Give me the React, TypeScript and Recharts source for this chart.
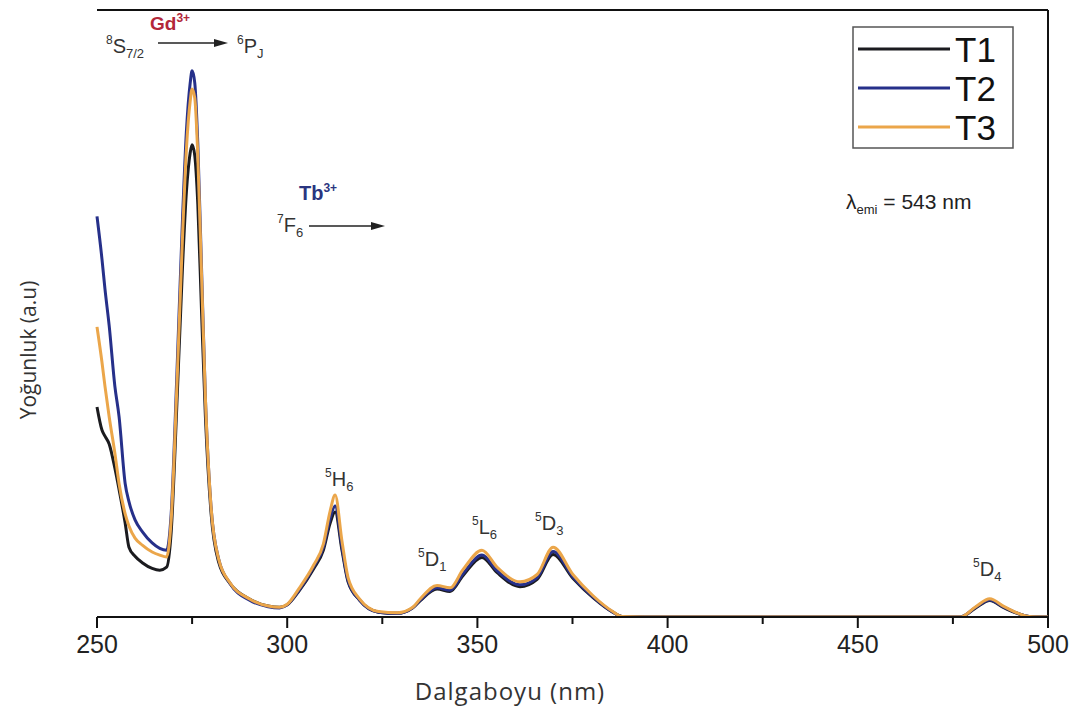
import { LineChart, Line, XAxis, YAxis, ReferenceLine } from "recharts";

// wavelength grid (nm) and intensities (0 = axis, 100 = top frame)
const wavelengths = [
  250, 251.3, 252.1, 253.2, 254.7, 255.8, 257.4, 258.4, 260, 262, 264.5, 266.5, 268.3, 269.5,
  271, 272.5, 273.5, 274.5, 275, 275.7, 276.5, 277.5, 278.5, 280, 282, 285, 290, 295, 298, 300,
  303, 307, 309.5, 311.3, 312.6, 314.4, 316, 319, 324, 329, 333, 335, 339.4, 342.8, 346.2,
  351.2, 355.2, 361.2, 365.7, 369.9, 375.1, 380.4, 385.6, 388, 400, 450, 477, 481, 484.7,
  488.5, 495, 500,
];

const t1 = [
  34.6, 30.8, 29.8, 28.5, 24.5, 21, 15.5, 11.5, 10, 8.9, 8, 7.7, 8.2, 14,
  35, 58, 70, 76.5, 77.8, 76, 68, 50, 33, 17, 9, 5.5, 3, 1.8, 1.6, 2,
  4.2, 8, 11, 15.5, 17.3, 11, 5.8, 2.8, 0.8, 0.6, 1.5, 2.7, 4.6, 4.2, 6.8,
  9.8, 7.3, 5, 6.2, 10.3, 6.4, 3.2, 0.8, 0.1, 0, 0, 0, 1.5, 2.7,
  1.5, 0.1, 0,
];

const t2 = [
  66, 59, 54, 48, 38, 33, 22, 19, 16, 14, 12.2, 11.3, 11, 17,
  40, 66, 80, 88, 90, 88, 78, 57, 36, 18, 9.5, 5.5, 2.8, 1.7, 1.5, 2,
  4.3, 8.3, 11.5, 16.3, 18.3, 11.5, 6, 2.8, 0.8, 0.6, 1.5, 2.8, 4.8, 4.4, 7.1,
  10.2, 7.6, 5.3, 6.5, 10.8, 6.6, 3.3, 0.8, 0.1, 0, 0, 0, 1.6, 2.8,
  1.6, 0.1, 0,
];

const t3 = [
  47.8, 42, 38, 33, 27, 22, 17, 15, 13, 11.8, 10.7, 10.2, 9.9, 16,
  38, 63, 77, 85, 87, 85.5, 76, 56, 36, 18, 9.5, 5.6, 3, 1.8, 1.6, 2.1,
  4.6, 8.6, 12, 17.5, 20.1, 12.5, 6.5, 3, 0.9, 0.7, 1.6, 3, 5.2, 4.8, 7.8,
  11, 8.2, 5.8, 7, 11.5, 7, 3.5, 0.9, 0.1, 0, 0, 0, 1.7, 3,
  1.7, 0.1, 0,
];

const xTicks = [250, 275, 300, 325, 350, 375, 400, 425, 450, 475, 500];
const majorTicks = [250, 300, 350, 400, 450, 500];

const seriesInfo = [
  { key: "T1", color: "#1b1b1f" },
  { key: "T2", color: "#26308a" },
  { key: "T3", color: "#eba64a" },
];

const data = wavelengths.map((nm, i) => ({ nm, T1: t1[i], T2: t2[i], T3: t3[i] }));

const FONT = "'Liberation Sans', Arial, sans-serif";

function Tick(props: any) {
  const { x, y, payload } = props;
  const major = majorTicks.includes(payload.value);
  return (
    <g>
      <line x1={x} x2={x} y1={y} y2={y + (major ? 11 : 7)} stroke="#111" strokeWidth={2} />
      {major && (
        <text x={x} y={y + 36} textAnchor="middle" fontSize={25} fill="#222" fontFamily={FONT}>
          {payload.value}
        </text>
      )}
    </g>
  );
}

function Term({ x, y, sup, main, sub }: { x: number; y: number; sup: string; main: string; sub?: string }) {
  return (
    <text x={x} y={y} fontFamily={FONT} fill="#333" fontSize={20}>
      <tspan fontSize={12} dy={-9}>{sup}</tspan>
      <tspan dy={9}>{main}</tspan>
      {sub && <tspan fontSize={13} dy={5}>{sub}</tspan>}
    </text>
  );
}

function Arrow({ x1, x2, y }: { x1: number; x2: number; y: number }) {
  return (
    <g>
      <line x1={x1} x2={x2 - 10} y1={y} y2={y} stroke="#222" strokeWidth={1.5} />
      <path d={`M${x2},${y} L${x2 - 14},${y - 4} L${x2 - 14},${y + 4} Z`} fill="#222" />
    </g>
  );
}

export default function App() {
  return (
    <div style={{ position: "absolute", left: 0, top: 0, width: 1083, height: 715, background: "#fff" }}>
      <LineChart width={1083} height={715} data={data} margin={{ top: 10, right: 35, left: 97, bottom: 38 }}>
        <XAxis
          dataKey="nm"
          type="number"
          domain={[250, 500]}
          ticks={xTicks}
          interval={0}
          tick={<Tick />}
          tickLine={false}
          tickSize={0}
          tickMargin={0}
          height={60}
          axisLine={{ stroke: "#111", strokeWidth: 2 }}
        />
        <YAxis
          domain={[0, 100]}
          allowDataOverflow
          width={0}
          tick={false}
          tickLine={false}
          axisLine={{ stroke: "#111", strokeWidth: 2 }}
        />
        <ReferenceLine y={100} stroke="#111" strokeWidth={2} />
        <ReferenceLine x={500} stroke="#111" strokeWidth={2} />
        {seriesInfo.map((s) => (
          <Line
            key={s.key}
            type="monotone"
            dataKey={s.key}
            stroke={s.color}
            strokeWidth={3}
            dot={false}
            isAnimationActive={false}
          />
        ))}
      </LineChart>
      <svg
        width={1083}
        height={715}
        style={{ position: "absolute", left: 0, top: 0, pointerEvents: "none" }}
      >
        {/* Gd3+ transition */}
        <text x={150} y={30} fontFamily={FONT} fontWeight="bold" fontSize={19} fill="#b3273a">
          Gd<tspan fontSize={12} dy={-8}>3+</tspan>
        </text>
        <Term x={106} y={53} sup="8" main="S" sub="7/2" />
        <Arrow x1={158} x2={228} y={43} />
        <Term x={237} y={53} sup="6" main="P" sub="J" />

        {/* Tb3+ transition */}
        <text x={299} y={200} fontFamily={FONT} fontWeight="bold" fontSize={20} fill="#2a3580">
          Tb<tspan fontSize={12} dy={-8}>3+</tspan>
        </text>
        <Term x={277} y={232} sup="7" main="F" sub="6" />
        <Arrow x1={309} x2={385} y={226} />

        <Term x={325} y={486} sup="5" main="H" sub="6" />
        <Term x={418} y={566} sup="5" main="D" sub="1" />
        <Term x={472} y={534} sup="5" main="L" sub="6" />
        <Term x={535} y={530} sup="5" main="D" sub="3" />
        <Term x={973} y={576} sup="5" main="D" sub="4" />

        <text x={846} y={209} fontFamily={FONT} fontSize={21} fill="#222">
          λ<tspan fontSize={13} dy={5}>emi</tspan>
          <tspan dy={-5}> = 543 nm</tspan>
        </text>

        {/* legend */}
        <rect x={853} y={27} width={160} height={121} fill="none" stroke="#555" strokeWidth={1.5} />
        {seriesInfo.map((s, i) => (
          <g key={s.key}>
            <line x1={858} x2={950} y1={49 + i * 39} y2={49 + i * 39} stroke={s.color} strokeWidth={3} />
            <text x={955} y={62 + i * 39} fontFamily={FONT} fontSize={35} fill="#111">
              {s.key}
            </text>
          </g>
        ))}

        {/* axis titles */}
        <text
          x={510}
          y={700}
          textAnchor="middle"
          fontFamily="'Open Sans', sans-serif"
          fontSize={24}
          letterSpacing={1}
          fill="#333"
        >
          Dalgaboyu (nm)
        </text>
        <text
          x={36}
          y={350}
          transform="rotate(-90 36 350)"
          textAnchor="middle"
          fontFamily="'Open Sans', sans-serif"
          fontSize={21}
          fill="#333"
        >
          Yoğunluk (a.u)
        </text>
      </svg>
    </div>
  );
}
